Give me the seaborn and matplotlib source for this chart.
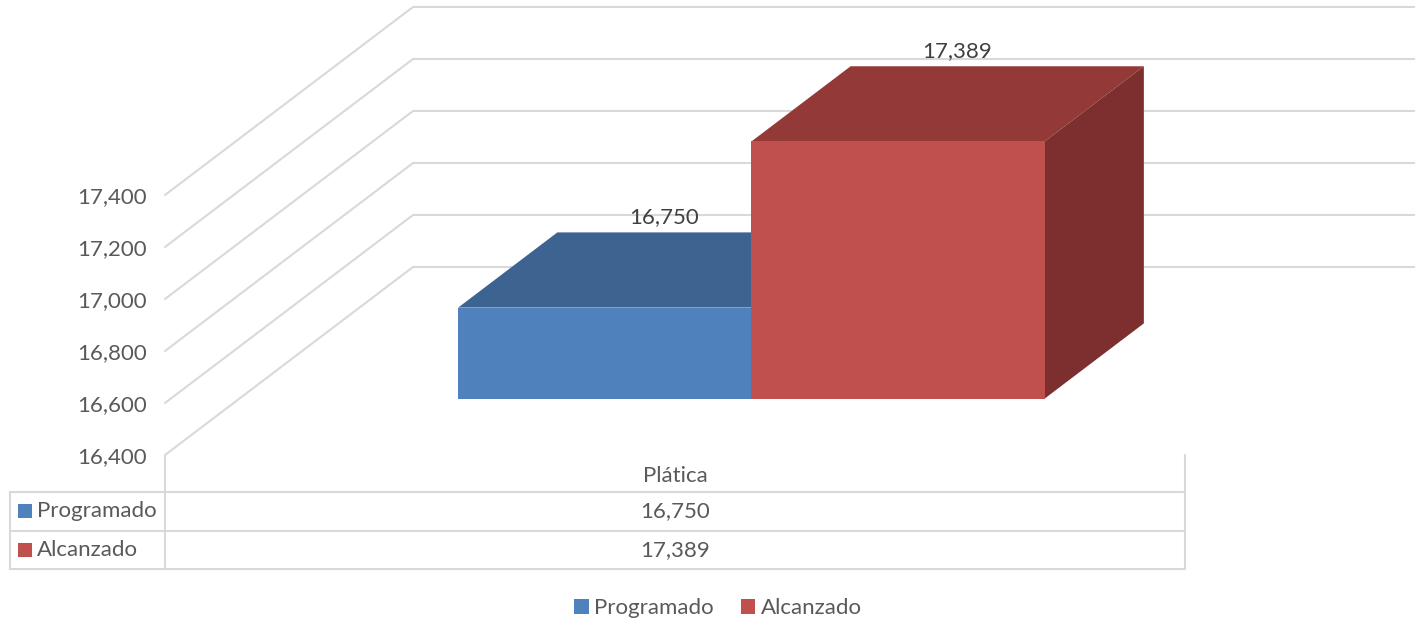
import matplotlib
matplotlib.use("Agg")
import matplotlib.pyplot as plt
import matplotlib.transforms as mtransforms
from matplotlib.lines import Line2D
from matplotlib.patches import Polygon, Rectangle
import numpy as np
import pandas as pd
import seaborn as sns

categories = ["Plática"]
series = ["Programado", "Alcanzado"]
programado = [16750]
alcanzado = [17389]
y_ticks = [16400, 16600, 16800, 17000, 17200, 17400]

front_colors = ["#4F81BD", "#C0504D"]
top_colors = ["#3D6490", "#933A39"]
side_colors = ["#325278", "#7C2F2E"]

W, H, DPI = 1415, 619, 100
DEPTH = np.array([248.0, 188.0])  # full floor depth in px (right, up)
BAR_Z = (0.3, 0.7)                # bar front / back as fraction of depth
GRID = "#D9D9D9"
TEXT = "#595959"
FS = 16

df = pd.DataFrame({
    "categoria": categories * 2,
    "serie": [series[0]] * len(categories) + [series[1]] * len(categories),
    "valor": programado + alcanzado,
})

sns.set_theme(style="white")
plt.rcParams["font.family"] = ["Lato", "DejaVu Sans"]

fig = plt.figure(figsize=(W / DPI, H / DPI), dpi=DPI)
fig.patch.set_facecolor("white")
ax = fig.add_axes([165 / W, 1 - 455 / H, 1020 / W, 260 / H])
ax.patch.set_alpha(0)

sns.barplot(data=df, x="categoria", y="valor", hue="serie", palette=front_colors,
            width=0.575, gap=0, saturation=1, linewidth=0, ax=ax)
ax.set_xlim(-0.5, 0.5)
ax.set_ylim(y_ticks[0], y_ticks[-1])
for s in ax.spines.values():
    s.set_visible(False)
ax.set_xlabel("")
ax.set_ylabel("")

base = y_ticks[0]
ident = mtransforms.IdentityTransform()
front_off = BAR_Z[0] * DEPTH + np.array([2.0, 0.0])
back_off = BAR_Z[1] * DEPTH + np.array([2.0, 0.0])

# back wall + left wall gridlines
for v in y_ticks:
    p0 = ax.transData.transform((-0.5, v))
    p1 = p0 + DEPTH
    p2 = ax.transData.transform((0.5, v)) + DEPTH
    ax.add_line(Line2D([p0[0], p1[0], p2[0]], [p0[1], p1[1], p2[1]], transform=ident,
                       color=GRID, lw=1.5, zorder=1, clip_on=False))

# 3D bars: front face from seaborn, shifted into depth; top and side faces built from it
for i, cont in enumerate(ax.containers):
    for p in cont.patches:
        top = p.get_height()
        p.set_y(base)
        p.set_height(top - base)
        p.set_transform(ax.transData + mtransforms.Affine2D().translate(*front_off))
        p.set_zorder(3 + i + 0.5)
        p.set_clip_on(False)
        x0, x1 = p.get_x(), p.get_x() + p.get_width()
        corners = ax.transData.transform([[x0, base], [x1, base], [x1, top], [x0, top]])
        f = corners + front_off
        b = corners + back_off
        ax.add_patch(Polygon([f[3], f[2], b[2], b[3]], closed=True, transform=ident,
                             facecolor=top_colors[i], edgecolor="none", zorder=3 + i, clip_on=False))
        ax.add_patch(Polygon([f[1], f[2], b[2], b[1]], closed=True, transform=ident,
                             facecolor=side_colors[i], edgecolor="none", zorder=3 + i, clip_on=False))
        lx = (b[2][0] + b[3][0]) / 2 - 40
        ly = b[2][1] + 15
        ax.text(lx, ly, f"{top:,.0f}", transform=ident, ha="center", va="center",
                fontsize=FS, color="#404040", zorder=10)

ax.set_yticks(y_ticks)
ax.set_yticklabels([f"{v:,}" for v in y_ticks])
ax.tick_params(axis="y", length=0, pad=13, labelsize=FS, labelcolor=TEXT)
ax.tick_params(axis="x", length=0, pad=8, labelsize=FS, labelcolor=TEXT)

# data table under the chart
ax_l, ax_b = ax.transAxes.transform((0, 0))
ax_r, _ = ax.transAxes.transform((1, 0))
tbl_left = 10
head_h, row_h = 37, 38.5
rows_top = ax_b - head_h
row_edges = [rows_top - k * row_h for k in range(len(series) + 1)]
for y in row_edges:
    fig.add_artist(Line2D([tbl_left, ax_r], [y, y], transform=ident, color=GRID, lw=1.5))
fig.add_artist(Line2D([tbl_left, tbl_left], [rows_top, row_edges[-1]], transform=ident, color=GRID, lw=1.5))
for x in (ax_l, ax_r):
    fig.add_artist(Line2D([x, x], [ax_b, row_edges[-1]], transform=ident, color=GRID, lw=1.5))

table_vals = [programado, alcanzado]
for k, name in enumerate(series):
    yc = (row_edges[k] + row_edges[k + 1]) / 2
    fig.add_artist(Rectangle((18, yc - 7), 14, 14, transform=ident,
                             facecolor=front_colors[k], edgecolor="none"))
    fig.text(37, yc, name, transform=ident, ha="left", va="center", fontsize=FS, color=TEXT)
    for j, cat in enumerate(categories):
        xc = ax.transData.transform((j, base))[0]
        fig.text(xc, yc, f"{table_vals[k][j]:,}", transform=ident, ha="center", va="center",
                 fontsize=FS, color=TEXT)

sns.move_legend(ax, "center", bbox_to_anchor=(718 / W, 1 - 608 / H), bbox_transform=fig.transFigure,
                ncol=2, frameon=False, title=None, fontsize=FS, labelcolor=TEXT,
                handlelength=0.65, handleheight=0.65, handletextpad=0.25, columnspacing=1.2)

fig.savefig("out.png", dpi=DPI)
